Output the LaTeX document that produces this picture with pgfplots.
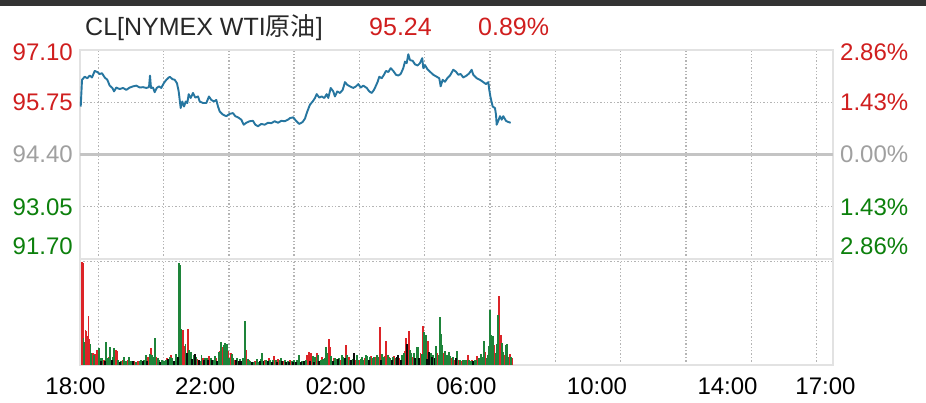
\documentclass[border=0pt]{standalone}
\usepackage{fontspec}
\setmainfont{Liberation Sans}
\newfontfamily\cjk{Noto Sans CJK SC}
\usepackage{pgfplots}
\pgfplotsset{compat=1.18}
\definecolor{cred}{RGB}{208,30,30}
\definecolor{cgreen}{RGB}{12,128,12}
\definecolor{cgray}{RGB}{160,160,160}
\definecolor{cline}{RGB}{38,118,160}
\definecolor{vred}{RGB}{220,36,40}
\definecolor{vgreen}{RGB}{30,132,58}
\definecolor{vblack}{RGB}{10,10,10}
\definecolor{framec}{RGB}{226,226,226}
\definecolor{gridc}{RGB}{180,180,180}
\definecolor{basec}{RGB}{196,196,196}
\definecolor{topbar}{RGB}{51,51,51}
\definecolor{titlec}{RGB}{40,40,40}
\pgfplotsset{
  panel/.style={
    scale only axis, anchor=south west, width=753pt,
    xmin=0.165, xmax=23.23,
    axis line style={draw=framec, line width=2pt},
    major tick length=0pt,
    grid style={draw=gridc, line width=1.4pt, dash pattern=on 1.4pt off 2pt},
    xtick={0.726,2.726,4.726,6.726,8.726,10.726,12.726,14.726,16.726,18.726,20.726,22.726},
    xticklabels={},
    xmajorgrids,
    tick label style={font=\fontsize{24}{28}\selectfont, inner sep=0pt},
  }
}
\begin{document}
\begin{tikzpicture}
\path[use as bounding box, fill=white] (0pt,0pt) rectangle (926pt,402pt);
\fill[topbar] (0pt,396pt) rectangle (926pt,402pt);
\node[anchor=base west, inner sep=0pt, text=titlec, font=\fontsize{25}{30}\selectfont] at (85pt,366pt) {CL[NYMEX WTI{\cjk 原油}]};
\node[anchor=base west, inner sep=0pt, text=cred, font=\fontsize{25}{30}\selectfont] at (369pt,366pt) {95.24};
\node[anchor=base west, inner sep=0pt, text=cred, font=\fontsize{25}{30}\selectfont] at (478pt,366pt) {0.89\%};

% price panel
\begin{axis}[panel, at={(80pt,143pt)}, height=209pt,
  ymin=91.70, ymax=97.10,
  ytick={91.70,93.05,95.75,97.10},
  yticklabels={\textcolor{cgreen}{\raisebox{0pt}[17pt][27pt]{91.70}},\textcolor{cgreen}{93.05},\textcolor{cred}{95.75},\textcolor{cred}{\raisebox{0pt}[21pt][0pt]{97.10}}},
  ymajorgrids,
  extra y ticks={94.40}, extra y tick labels={\textcolor{cgray}{94.40}},
  extra y tick style={major grid style={draw=basec, solid, line width=3pt}},
  yticklabel style={anchor=east, xshift=-7pt},
]
\addplot[cline, line width=1.9pt, line join=round] coordinates {
(0.187,95.64)(0.227,96.33)(0.309,96.41)(0.389,96.37)(0.462,96.44)(0.533,96.39)(0.616,96.56)(0.695,96.53)
(0.769,96.48)(0.839,96.50)(0.922,96.39)(1.002,96.33)(1.075,96.18)(1.155,96.12)(1.207,96.03)(1.277,96.13)
(1.381,96.09)(1.482,96.12)(1.583,96.07)(1.688,96.13)(1.789,96.16)(1.890,96.18)(1.994,96.13)(2.095,96.14)
(2.196,96.12)(2.279,96.14)(2.309,96.44)(2.340,96.12)(2.401,96.13)(2.453,96.01)(2.515,96.12)(2.585,96.16)
(2.655,96.12)(2.729,96.24)(2.809,96.33)(2.913,96.41)(2.992,96.35)(3.066,96.33)(3.136,96.24)(3.188,96.03)
(3.219,95.81)(3.249,95.60)(3.299,95.77)(3.351,95.64)(3.403,95.77)(3.452,95.73)(3.495,95.96)(3.556,95.86)
(3.626,95.99)(3.697,95.87)(3.779,95.90)(3.832,95.77)(3.933,95.73)(4.034,95.73)(4.116,95.90)(4.187,95.81)
(4.270,95.77)(4.340,95.81)(4.392,95.64)(4.444,95.51)(4.545,95.43)(4.646,95.39)(4.750,95.45)(4.851,95.47)
(4.922,95.39)(5.005,95.36)(5.106,95.30)(5.179,95.17)(5.259,95.22)(5.363,95.26)(5.464,95.27)(5.534,95.17)
(5.617,95.13)(5.718,95.19)(5.822,95.17)(5.923,95.22)(6.025,95.21)(6.129,95.26)(6.230,95.22)(6.331,95.27)
(6.435,95.26)(6.536,95.30)(6.597,95.34)(6.698,95.36)(6.781,95.27)(6.882,95.19)(6.986,95.24)(7.057,95.33)
(7.127,95.51)(7.210,95.69)(7.292,95.77)(7.363,95.86)(7.415,95.96)(7.495,95.87)(7.568,95.90)(7.648,95.86)
(7.721,95.96)(7.770,95.86)(7.844,96.12)(7.923,96.03)(7.975,95.90)(8.046,96.03)(8.129,95.99)(8.211,96.07)
(8.282,96.27)(8.352,96.20)(8.435,96.16)(8.536,96.12)(8.619,96.16)(8.689,96.22)(8.763,96.13)(8.842,96.18)
(8.947,96.12)(9.026,96.03)(9.100,95.99)(9.170,96.07)(9.231,96.18)(9.283,96.28)(9.332,96.41)(9.406,96.37)
(9.476,96.46)(9.538,96.56)(9.608,96.53)(9.681,96.63)(9.761,96.56)(9.844,96.46)(9.914,96.44)(9.988,96.48)
(10.067,96.63)(10.119,96.80)(10.172,96.76)(10.221,96.99)(10.273,96.84)(10.355,96.82)(10.426,96.73)(10.508,96.70)
(10.579,96.76)(10.649,96.89)(10.680,96.63)(10.732,96.71)(10.802,96.61)(10.885,96.54)(10.986,96.46)(11.090,96.41)
(11.170,96.37)(11.213,96.16)(11.274,96.33)(11.345,96.28)(11.415,96.37)(11.498,96.44)(11.599,96.59)(11.681,96.54)
(11.752,96.46)(11.825,96.48)(11.905,96.39)(12.009,96.44)(12.089,96.50)(12.162,96.59)(12.211,96.46)(12.315,96.37)
(12.416,96.33)(12.518,96.27)(12.600,96.22)(12.671,96.27)(12.701,96.07)(12.744,95.86)(12.806,95.64)(12.876,95.60)
(12.907,95.43)(12.928,95.17)(12.977,95.27)(13.029,95.39)(13.081,95.30)(13.130,95.39)(13.213,95.27)(13.283,95.24)
(13.357,95.22)
};
\end{axis}

% right percentage labels
\begin{axis}[scale only axis, anchor=south west, at={(80pt,143pt)}, width=753pt, height=209pt,
  xmin=0.165, xmax=23.23, ymin=91.70, ymax=97.10,
  axis line style={draw=none}, xtick=\empty, major tick length=0pt,
  ytick={91.70,93.05,94.40,95.75,97.10},
  yticklabels={\textcolor{cgreen}{\raisebox{0pt}[17pt][27pt]{2.86\%}},\textcolor{cgreen}{1.43\%},\textcolor{cgray}{0.00\%},\textcolor{cred}{1.43\%},\textcolor{cred}{\raisebox{0pt}[21pt][0pt]{2.86\%}}},
  yticklabel pos=right,
  yticklabel style={anchor=west, xshift=7pt, inner sep=0pt, font=\fontsize{24}{28}\selectfont},
]
\end{axis}

% volume panel
\begin{axis}[panel, at={(80pt,37pt)}, height=106pt,
  ymin=0, ymax=102.6, ytick={100}, yticklabels={}, ymajorgrids,
  extra x ticks={0.165,4,8,12,16,20,23},
  extra x tick labels={\kern-9pt 18:00,22:00,02:00,06:00,10:00,14:00,17:00},
  extra x tick style={grid=none, xticklabel style={anchor=north, yshift=-12.5pt}},
]
\addplot[ycomb, vred, line width=1.7pt] coordinates {
(0.216,100)(0.247,99)(0.329,34)(0.359,33)(0.390,28)(0.421,47)(0.451,25)(0.553,12)(0.615,11)(0.655,8)
(0.696,15)(0.890,5)(1.054,8)(1.258,15)(1.299,14)(1.472,5)(1.625,5)(1.830,4)(1.932,4)(2.258,8)
(2.340,16)(2.503,8)(2.707,4)(2.830,7)(2.953,10)(3.075,4)(3.310,34)(3.351,18)(3.473,35)(3.759,6)
(3.922,7)(4.127,9)(4.331,7)(4.453,14)(4.535,17)(4.698,14)(4.780,12)(4.902,5)(5.260,15)(5.341,5)
(5.535,4)(5.831,5)(5.954,7)(6.117,9)(6.240,6)(6.403,4)(6.607,5)
(7.128,10)(7.169,13)(7.251,12)(7.414,12)(7.578,8)(7.782,25)(7.823,17)(7.945,7)(8.149,5)(8.313,19)
(8.394,8)(8.598,5)(8.721,5)(8.884,7)(9.088,9)(9.211,8)(9.344,37)(9.507,9)(9.548,23)(9.630,8)
(9.793,9)(9.956,7)(10.120,14)(10.150,26)(10.232,33)(10.354,8)(10.599,12)(10.681,38)(10.824,23)(11.110,12)
(11.314,12)(11.437,9)(11.559,7)(11.641,5)(11.763,5)(11.845,4)(12.049,10)(12.172,5)(12.335,9)(12.580,13)
(12.856,19)(13.009,67)(13.050,29)(13.172,10)(13.335,11)(13.417,7)
};
\addplot[ycomb, vgreen, line width=1.7pt] coordinates {
(0.268,26)(0.298,22)(0.482,20)(0.513,12)(0.584,10)(0.737,16)(0.778,7)(0.849,7)(0.972,22)(1.013,7)
(1.094,17)(1.176,8)(1.217,16)(1.339,5)(1.421,4)(1.523,8)(1.574,4)(1.676,8)(1.727,4)(1.881,3)
(1.983,4)(2.034,5)(2.136,5)(2.177,10)(2.299,11)(2.381,10)(2.422,8)(2.462,26)(2.544,7)(2.585,5)
(2.667,5)(2.748,4)(2.789,5)(2.912,8)(2.993,7)(3.116,11)(3.187,99)(3.228,97)(3.269,35)(3.392,20)
(3.514,15)(3.555,13)(3.637,10)(3.718,8)(3.841,4)(3.882,10)(4.004,7)(4.045,7)(4.167,7)(4.249,5)
(4.290,9)(4.412,13)(4.494,22)(4.576,19)(4.617,21)(4.657,20)(4.739,7)(4.821,11)(4.862,7)(4.984,7)
(5.066,6)(5.147,7)(5.188,7)(5.219,43)(5.301,6)(5.382,4)(5.484,3)(5.586,6)(5.627,3)(5.709,6)
(5.750,12)(5.872,5)(5.995,5)(6.076,5)(6.158,5)(6.281,5)(6.321,7)(6.444,5)(6.526,4)(6.648,4)(6.730,5)
(6.822,5)(6.873,10)(6.975,4)(7.077,5)(7.292,9)(7.373,8)(7.455,10)(7.537,5)(7.618,6)(7.659,7)
(7.700,17)(7.741,12)(7.863,9)(7.986,7)(8.027,6)(8.108,7)(8.190,10)(8.231,8)(8.353,10)(8.435,5)
(8.517,6)(8.639,10)(8.680,5)(8.762,6)(8.803,8)(8.843,5)(8.925,10)(8.966,9)(9.048,8)(9.129,7)
(9.170,8)(9.252,10)(9.293,8)(9.425,11)(9.466,8)(9.589,10)(9.670,7)(9.752,8)(9.834,7)(10.038,10)
(10.079,12)(10.273,15)(10.314,12)(10.395,12)(10.477,17)(10.518,17)(10.640,11)(10.712,32)(10.753,29)(10.906,12)
(10.987,10)(11.069,18)(11.151,10)(11.192,46)(11.232,30)(11.273,19)(11.355,14)(11.396,10)(11.477,13)(11.518,9)
(11.600,8)(11.722,14)(11.804,5)(11.886,5)(11.927,4)(11.967,5)(12.008,5)(12.090,5)(12.131,4)(12.253,5)
(12.294,5)(12.376,7)(12.417,5)(12.457,11)(12.498,8)(12.539,23)(12.621,7)(12.662,10)(12.702,18)(12.733,53)
(12.774,29)(12.815,28)(12.896,12)(12.937,20)(12.968,48)(13.090,21)(13.131,13)(13.213,19)(13.254,20)(13.294,8)
(13.376,8)
};
\addplot[ycomb, vblack, line width=1.7pt] coordinates {
(0.809,4)(0.931,4)(1.135,5)(1.380,3)(1.778,4)(2.085,4)(2.217,4)(2.626,3)(2.871,6)(3.034,4)
(3.157,8)(3.432,12)(3.596,6)(3.677,11)(3.800,5)(3.963,5)(4.086,5)(4.208,5)(4.372,4)(4.943,5)
(5.025,4)(5.107,4)(5.433,3)(5.668,4)(5.790,4)(5.913,4)(6.036,3)(6.199,3)(6.362,4)(6.485,3)
(6.566,3)(6.689,3)(6.771,3)(6.924,3)(7.026,4)(7.210,4)(7.333,3)(7.496,4)(7.904,4)(8.068,6)
(8.272,7)(8.476,5)(8.558,12)(9.007,5)(9.385,5)(9.711,5)(9.875,8)(9.915,10)(9.997,5)(10.191,20)
(10.436,7)(10.559,7)(10.793,6)(10.865,13)(10.946,8)(11.028,7)(11.682,7)(12.212,4)
};
\end{axis}
\end{tikzpicture}
\end{document}
